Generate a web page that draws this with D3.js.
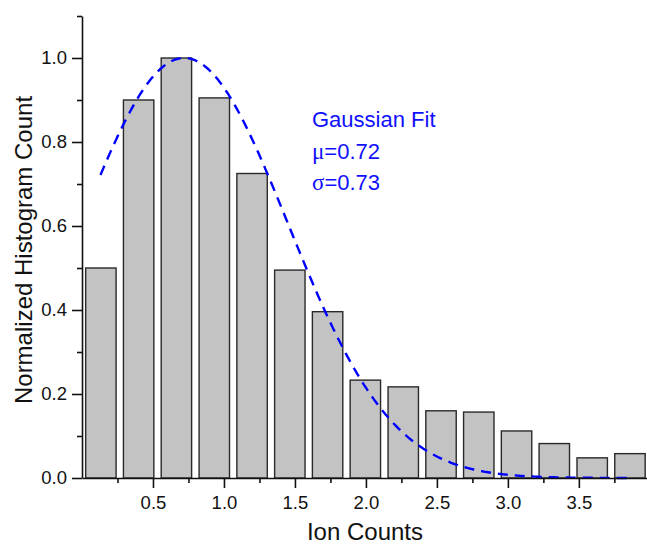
<!DOCTYPE html>
<html>
<head>
<meta charset="utf-8">
<script src="https://cdn.jsdelivr.net/npm/d3@7"></script>
<style>
  html, body { margin: 0; padding: 0; background: #fff; }
  svg { display: block; }
  text { font-family: "Liberation Sans", Arial, sans-serif; }
</style>
</head>
<body>
<svg id="chart" width="647" height="547"></svg>
<script>
// ---- data ----
const binCenters = [0.133, 0.399, 0.665, 0.932, 1.198, 1.464, 1.730, 1.996, 2.263, 2.529, 2.795, 3.061, 3.327, 3.594, 3.860];
const counts     = [0.500, 0.900, 1.000, 0.905, 0.725, 0.495, 0.396, 0.233, 0.217, 0.160, 0.157, 0.112, 0.082, 0.048, 0.058];
const binWidth = 0.2662;
const xTickValues = [0.5, 1.0, 1.5, 2.0, 2.5, 3.0, 3.5];
const xMinorValues = [0.25, 0.75, 1.25, 1.75, 2.25, 2.75, 3.25, 3.75];
const yTickValues = [0.0, 0.2, 0.4, 0.6, 0.8, 1.0];
const yMinorValues = [0.1, 0.3, 0.5, 0.7, 0.9, 1.1];
const fitMu = 0.72, fitSigma = 0.73, fitAmp = 1.0;
const fitRange = [0.13, 3.86];
const fitLabels = ["Gaussian Fit", "μ=0.72", "σ=0.73"];

// ---- layout ----
const svg = d3.select("#chart");
const x = d3.scaleLinear().domain([0, 3.98]).range([82, 647]);
const y = d3.scaleLinear().domain([0, 1.1]).range([478, 16]);

// bars
const bw = x(binWidth * 0.805) - x(0);
svg.append("g").selectAll("rect")
  .data(binCenters.map((c, i) => ({c, v: counts[i]})))
  .join("rect")
  .attr("x", d => x(d.c) - bw / 2)
  .attr("y", d => y(d.v))
  .attr("width", bw)
  .attr("height", d => y(0) - y(d.v))
  .attr("fill", "#c3c3c3")
  .attr("stroke", "#2a2a2a")
  .attr("stroke-width", 1.4);

// gaussian fit curve
const fitPts = d3.range(fitRange[0], fitRange[1] + 1e-9, 0.01).map(v => [v, fitAmp * Math.exp(-((v - fitMu) ** 2) / (2 * fitSigma * fitSigma))]);
svg.append("path")
  .datum(fitPts)
  .attr("fill", "none")
  .attr("stroke", "#0000ff")
  .attr("stroke-width", 2.4)
  .attr("stroke-dasharray", "10,7")
  .attr("d", d3.line().x(d => x(d[0])).y(d => y(d[1])));

// axes
const axisColor = "#111";
function styleAxis(g) {
  g.selectAll("path.domain").attr("stroke", axisColor).attr("stroke-width", 1.6);
  g.selectAll(".tick line").attr("stroke", axisColor).attr("stroke-width", 1.6);
  g.selectAll(".tick text").attr("fill", "#111").style("font-size", "18.5px")
    .style("font-family", "'Liberation Sans', Arial, sans-serif");
}

// x axis
const gx = svg.append("g").attr("transform", `translate(0,${y(0)})`)
  .call(d3.axisBottom(x).tickValues(xTickValues).tickSize(10).tickSizeOuter(0).tickPadding(8).tickFormat(d3.format(".1f")));
styleAxis(gx);
const gxm = svg.append("g").attr("transform", `translate(0,${y(0)})`)
  .call(d3.axisBottom(x).tickValues(xMinorValues).tickSize(5).tickSizeOuter(0).tickFormat(""));
styleAxis(gxm);
gxm.select("path.domain").remove();

// y axis
const gy = svg.append("g").attr("transform", `translate(${x(0)},0)`)
  .call(d3.axisLeft(y).tickValues(yTickValues).tickSize(10).tickSizeOuter(0).tickPadding(5).tickFormat(d3.format(".1f")));
styleAxis(gy);
const gym = svg.append("g").attr("transform", `translate(${x(0)},0)`)
  .call(d3.axisLeft(y).tickValues(yMinorValues).tickSize(5).tickSizeOuter(0).tickFormat(""));
styleAxis(gym);
gym.select("path.domain").remove();

// axis titles
svg.append("text")
  .attr("x", 365).attr("y", 540)
  .attr("text-anchor", "middle")
  .style("font-size", "24px").attr("fill", "#111")
  .text("Ion Counts");
svg.append("text")
  .attr("transform", "translate(32,250) rotate(-90)")
  .attr("text-anchor", "middle")
  .style("font-size", "24px").attr("fill", "#111")
  .text("Normalized Histogram Count");

// fit annotation
const ann = svg.append("g").attr("fill", "#1010ff").style("font-size", "22px");
const baselines = [127, 159, 190];
fitLabels.forEach((t, i) => {
  const tx = ann.append("text").attr("x", 312).attr("y", baselines[i]);
  if (i === 0) {
    tx.text(t);
  } else {
    tx.append("tspan").style("font-family", "'Liberation Serif', 'Times New Roman', serif").style("font-size", "23px").text(t[0]);
    tx.append("tspan").text(t.slice(1));
  }
});
</script>
</body>
</html>
